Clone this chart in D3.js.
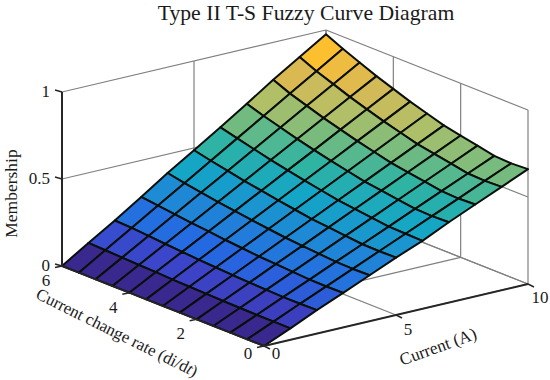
<!DOCTYPE html>
<html>
<head>
<meta charset="utf-8">
<script src="https://cdn.jsdelivr.net/npm/d3@7"></script>
<style>
  html, body { margin: 0; padding: 0; background: #fff; }
  svg { display: block; }
  text { font-family: "Liberation Serif", serif; fill: #1a1a1a; }
</style>
</head>
<body>
<svg id="chart" width="550" height="380"></svg>
<script>
/* Type II T-S surface, drawn as a fixed oblique 3D view */

const currentValues = [0, 1, 2, 3, 4, 5, 6, 7, 8, 9, 10];
const rateValues = [0, 0.5, 1, 1.5, 2, 2.5, 3, 3.5, 4, 4.5, 5, 5.5, 6];
const currentTicks = [0, 5, 10];
const rateTicks = [0, 2, 4, 6];
const memberTicks = [0, 0.5, 1];

// one row per current value, one column per rate value
const membership = [
  [0, 0, 0, 0, 0, 0, 0, 0, 0, 0, 0, 0, 0],
  [0.066, 0.066, 0.066, 0.068, 0.07, 0.072, 0.075, 0.078, 0.082, 0.085, 0.089, 0.093, 0.097],
  [0.135, 0.133, 0.133, 0.136, 0.14, 0.144, 0.15, 0.156, 0.163, 0.17, 0.178, 0.186, 0.19],
  [0.198, 0.197, 0.198, 0.204, 0.21, 0.216, 0.225, 0.234, 0.245, 0.255, 0.267, 0.279, 0.29],
  [0.264, 0.262, 0.264, 0.272, 0.28, 0.288, 0.3, 0.312, 0.326, 0.34, 0.356, 0.372, 0.392],
  [0.33, 0.328, 0.33, 0.34, 0.35, 0.36, 0.375, 0.39, 0.408, 0.425, 0.445, 0.465, 0.487],
  [0.39, 0.393, 0.396, 0.408, 0.42, 0.432, 0.45, 0.468, 0.489, 0.51, 0.534, 0.558, 0.583],
  [0.462, 0.459, 0.462, 0.476, 0.49, 0.504, 0.525, 0.546, 0.57, 0.595, 0.623, 0.651, 0.683],
  [0.528, 0.524, 0.528, 0.544, 0.56, 0.576, 0.6, 0.624, 0.652, 0.68, 0.712, 0.744, 0.785],
  [0.594, 0.59, 0.594, 0.612, 0.63, 0.648, 0.675, 0.702, 0.733, 0.765, 0.801, 0.837, 0.88],
  [0.66, 0.655, 0.66, 0.68, 0.7, 0.72, 0.75, 0.78, 0.815, 0.85, 0.89, 0.93, 0.975],
];

const colorStops = [0, 0.08, 0.16, 0.28, 0.39, 0.49, 0.585, 0.68, 0.78, 0.88, 0.975];
const colorValues = ["#39298f", "#3c44c8", "#2568e2", "#1f88d6", "#14a6c6", "#2fb3a3", "#72bb80", "#b0bf68", "#d8b955", "#fcbf30", "#ffd22a"];

const svg = d3.select("#chart");

// screen offsets for each data axis, starting at the front floor corner
const ORIGIN = { x: 264, y: 346 };
const curX = d3.scaleLinear().domain([0, 10]).range([0, 264]);
const curY = d3.scaleLinear().domain([0, 10]).range([0, -62]);
const rateX = d3.scaleLinear().domain([0, 6]).range([0, -202]);
const rateY = d3.scaleLinear().domain([0, 6]).range([0, -80]);
const memY = d3.scaleLinear().domain([0, 1]).range([0, -174]);

function project(cur, rate, m) {
  return [ORIGIN.x + curX(cur) + rateX(rate), ORIGIN.y + curY(cur) + rateY(rate) + memY(m)];
}

const colorScale = d3.scaleLinear().domain(colorStops).range(colorValues).clamp(true);

const line = d3.line();

function seg(a, b, cls) {
  svg.append("path").attr("class", cls).attr("d", line([project(...a), project(...b)]))
    .attr("fill", "none");
}

/* ---------- Walls and floor grid ---------- */
const gridG = "grid";
memberTicks.forEach(m => {
  seg([0, 6, m], [10, 6, m], gridG);
  seg([10, 6, m], [10, 0, m], gridG);
});
currentTicks.forEach(c => {
  seg([c, 6, 0], [c, 6, 1], gridG);
  seg([c, 6, 0], [c, 0, 0], gridG);
});
rateTicks.forEach(r => {
  seg([10, r, 0], [10, r, 1], gridG);
  seg([0, r, 0], [10, r, 0], gridG);
});
svg.selectAll("path.grid").attr("stroke", "#808080").attr("stroke-width", 1.2);

/* ---------- Surface, painted back to front ---------- */
const cells = [];
for (let i = currentValues.length - 2; i >= 0; i--) {
  for (let j = rateValues.length - 2; j >= 0; j--) {
    cells.push({ i, j });
  }
}
svg.append("g").selectAll("path")
  .data(cells)
  .join("path")
  .attr("d", ({ i, j }) => {
    const c0 = currentValues[i], c1 = currentValues[i + 1];
    const r0 = rateValues[j], r1 = rateValues[j + 1];
    return line([
      project(c0, r0, membership[i][j]),
      project(c1, r0, membership[i + 1][j]),
      project(c1, r1, membership[i + 1][j + 1]),
      project(c0, r1, membership[i][j + 1]),
    ]) + "Z";
  })
  .attr("fill", ({ i, j }) => colorScale(membership[i][j + 1]))
  .attr("stroke", "#0a0f0c")
  .attr("stroke-width", 2)
  .attr("stroke-linejoin", "round");

/* ---------- Axes ---------- */
const axisG = svg.append("g").attr("stroke", "#262626").attr("fill", "none");
function axisLine(a, b, w) {
  axisG.append("path").attr("d", line([a, b])).attr("stroke-width", w);
}
axisLine(project(0, 6, 0), project(0, 6, 1), 2);
axisLine(project(0, 0, 0), project(10, 0, 0), 2);
axisLine(project(0, 0, 0), project(0, 6, 0), 1.5);

const TICK_FONT = 17;
memberTicks.forEach(m => {
  const p = project(0, 6, m);
  axisLine(p, [p[0] - 7, p[1] - 2], 1.5);
  svg.append("text").attr("x", p[0] - 12).attr("y", p[1] + 5)
    .attr("text-anchor", "end").attr("font-size", TICK_FONT).text(m);
});
// r=0 and current=0 labels sit higher than the others in the reference
rateTicks.forEach(r => {
  const p = project(0, r, 0);
  axisLine(p, [p[0] - 7, p[1] + 1.5], 1.5);
  svg.append("text").attr("x", p[0] - 16).attr("y", p[1] + (r === 0 ? 13 : 20))
    .attr("text-anchor", "middle").attr("font-size", TICK_FONT).text(r);
});
currentTicks.forEach(c => {
  const p = project(c, 0, 0);
  axisLine(p, [p[0] + 6, p[1] + 3], 1.5);
  svg.append("text").attr("x", p[0] + 12).attr("y", p[1] + (c === 0 ? 13 : c === 5 ? 20 : 19))
    .attr("text-anchor", "middle").attr("font-size", TICK_FONT).text(c);
});

/* ---------- Titles ---------- */
svg.append("text").attr("x", 306).attr("y", 20)
  .attr("text-anchor", "middle").attr("font-size", 21.7)
  .text("Type II T-S Fuzzy Curve Diagram");

svg.append("text").attr("transform", "translate(17,193.5) rotate(-90)")
  .attr("text-anchor", "middle").attr("font-size", 17.5)
  .text("Membership");

const rateLabel = svg.append("text").attr("transform", "translate(114.5,337.5) rotate(26.5)")
  .attr("text-anchor", "middle").attr("font-size", 16.8);
rateLabel.append("tspan").text("Current change rate (di/d");
rateLabel.append("tspan").attr("font-style", "italic").text("t");
rateLabel.append("tspan").text(")");

svg.append("text").attr("transform", "translate(440,352) rotate(-20)")
  .attr("text-anchor", "middle").attr("font-size", 17.2)
  .text("Current (A)");
</script>
</body>
</html>
